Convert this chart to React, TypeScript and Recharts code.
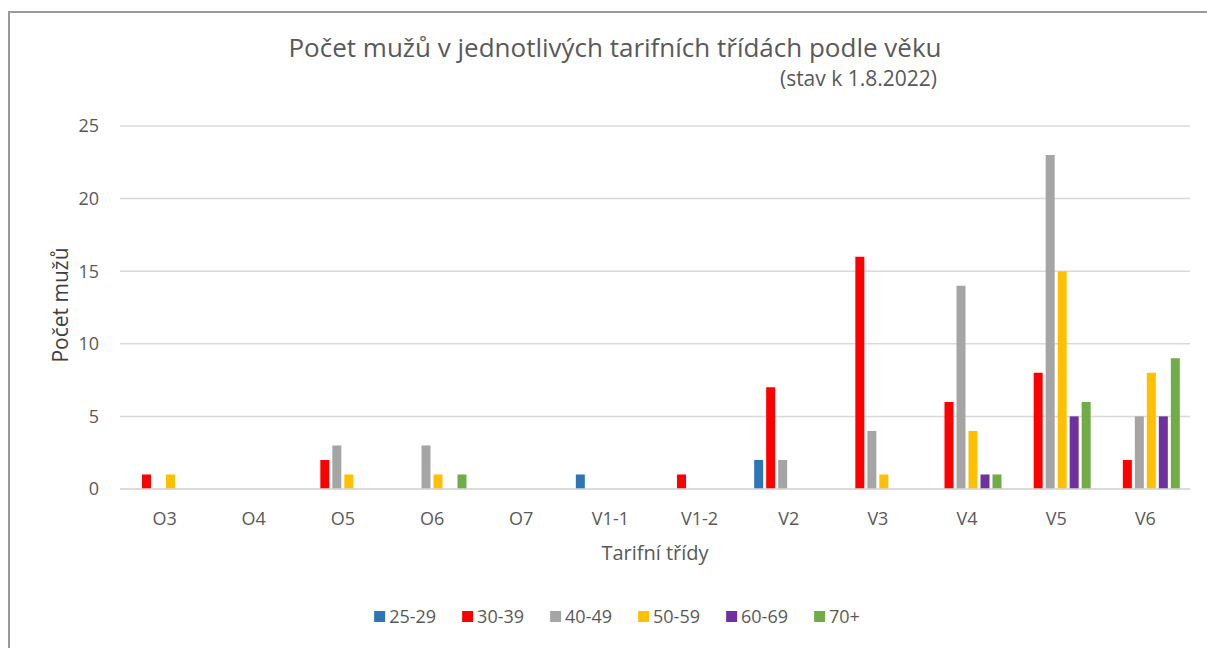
import { BarChart, Bar, XAxis, YAxis, CartesianGrid } from "recharts";

const categories = ["O3", "O4", "O5", "O6", "O7", "V1-1", "V1-2", "V2", "V3", "V4", "V5", "V6"];

const age25_29 = [0, 0, 0, 0, 0, 1, 0, 2, 0, 0, 0, 0];
const age30_39 = [1, 0, 2, 0, 0, 0, 1, 7, 16, 6, 8, 2];
const age40_49 = [0, 0, 3, 3, 0, 0, 0, 2, 4, 14, 23, 5];
const age50_59 = [1, 0, 1, 1, 0, 0, 0, 0, 1, 4, 15, 8];
const age60_69 = [0, 0, 0, 0, 0, 0, 0, 0, 0, 1, 5, 5];
const age70plus = [0, 0, 0, 1, 0, 0, 0, 0, 0, 1, 6, 9];

const yTicks = [0, 5, 10, 15, 20, 25];

const series = [
  { key: "a25", name: "25-29", values: age25_29, color: "#2E75B6" },
  { key: "a30", name: "30-39", values: age30_39, color: "#FF0000" },
  { key: "a40", name: "40-49", values: age40_49, color: "#A5A5A5" },
  { key: "a50", name: "50-59", values: age50_59, color: "#FFC000" },
  { key: "a60", name: "60-69", values: age60_69, color: "#7030A0" },
  { key: "a70", name: "70+", values: age70plus, color: "#70AD47" },
];

const data = categories.map((cat, i) => {
  const row: Record<string, any> = { name: cat };
  series.forEach((s) => {
    row[s.key] = s.values[i];
  });
  return row;
});

const FONT = "'Open Sans', sans-serif";
const TEXT = "#595959";

export default function App() {
  return (
    <div style={{ position: "absolute", left: 0, top: 0, width: 1207, height: 648, background: "#fff", fontFamily: FONT }}>
      <div
        style={{
          position: "absolute",
          left: 8,
          top: 11,
          right: 0,
          bottom: 0,
          borderTop: "2px solid #9a9a9a",
          borderLeft: "2px solid #9a9a9a",
        }}
      />
      <div style={{ position: "absolute", left: 0, width: 1230, top: 29, textAlign: "center", fontSize: 26, color: TEXT, whiteSpace: "nowrap" }}>
        Počet mužů v jednotlivých tarifních třídách podle věku
      </div>
      <div style={{ position: "absolute", right: 1207 - 937, top: 64, fontSize: 21, color: TEXT, whiteSpace: "nowrap" }}>
        (stav k 1.8.2022)
      </div>
      <div
        style={{
          position: "absolute",
          left: 60,
          top: 305,
          transform: "translate(-50%, -50%) rotate(-90deg)",
          fontSize: 21,
          color: "#404040",
          whiteSpace: "nowrap",
        }}
      >
        Počet mužů
      </div>
      <div style={{ position: "absolute", left: 655, top: 539, transform: "translateX(-50%)", fontSize: 20, color: TEXT, whiteSpace: "nowrap" }}>
        Tarifní třídy
      </div>
      <div style={{ position: "absolute", left: 0, top: 0 }}>
        <BarChart
          width={1207}
          height={648}
          data={data}
          margin={{ top: 126, right: 17, bottom: 129, left: 0 }}
          barSize={9}
          barGap={3}
        >
          <CartesianGrid vertical={false} stroke="#d9d9d9" strokeWidth={1.5} />
          <XAxis
            dataKey="name"
            height={30}
            axisLine={{ stroke: "#d9d9d9", strokeWidth: 1.5 }}
            tickLine={false}
            tickSize={0}
            tickMargin={23}
            tick={{ fill: TEXT, fontSize: 18, fontFamily: FONT }}
            interval={0}
          />
          <YAxis
            width={120}
            domain={[0, 25]}
            ticks={yTicks}
            axisLine={false}
            tickLine={false}
            tickSize={0}
            tickMargin={21}
            tick={{ fill: TEXT, fontSize: 18, fontFamily: FONT }}
          />
          {series.map((s) => (
            <Bar key={s.key} dataKey={s.key} name={s.name} fill={s.color} isAnimationActive={false} />
          ))}
        </BarChart>
      </div>
      <div
        style={{
          position: "absolute",
          left: 617,
          top: 604,
          transform: "translateX(-50%)",
          display: "flex",
          gap: 26,
          fontSize: 18,
          color: TEXT,
          whiteSpace: "nowrap",
        }}
      >
        {series.map((s) => (
          <div key={s.key} style={{ display: "flex", alignItems: "center", gap: 4 }}>
            <span style={{ display: "inline-block", width: 11, height: 11, background: s.color }} />
            <span>{s.name}</span>
          </div>
        ))}
      </div>
    </div>
  );
}
